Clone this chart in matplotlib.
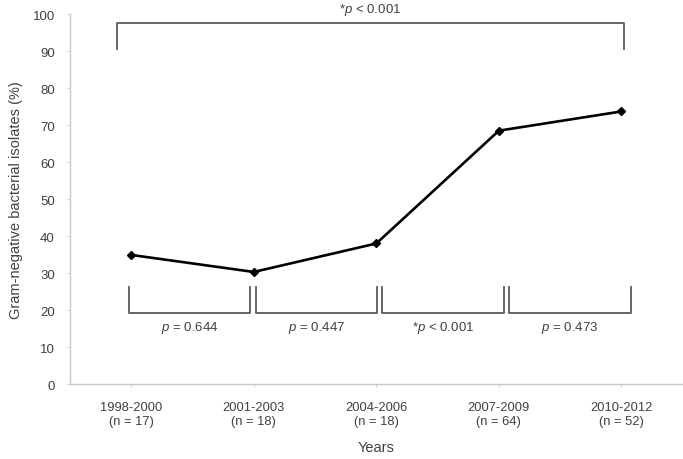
import matplotlib
matplotlib.use("Agg")
import matplotlib.pyplot as plt

periods = ["1998-2000", "2001-2003", "2004-2006", "2007-2009", "2010-2012"]
counts = [17, 18, 18, 64, 52]
pct = [34.9, 30.3, 38.0, 68.5, 73.7]
pair_p = ["$\\it{p}$ = 0.644", "$\\it{p}$ = 0.447", "*$\\it{p}$ < 0.001", "$\\it{p}$ = 0.473"]
overall_p = "*$\\it{p}$ < 0.001"

plt.rcParams['font.family'] = ['Liberation Sans', 'DejaVu Sans']
plt.rcParams['mathtext.fontset'] = 'custom'
plt.rcParams['mathtext.it'] = 'Liberation Sans:italic'
plt.rcParams['mathtext.rm'] = 'Liberation Sans'

fig = plt.figure(figsize=(6.83, 4.60), dpi=100)
ax = fig.add_axes([0.1025, 0.163, 0.897, 0.804])

x = list(range(len(periods)))
ax.plot(x, pct, color='black', lw=1.9, marker='D', ms=4.5, zorder=3)

ax.set_xlim(-0.5, 4.5)
ax.set_ylim(0, 100)
ax.set_yticks(range(0, 101, 10))
ax.set_xticks(x)
ax.set_xticklabels([f"{p}\n(n = {n})" for p, n in zip(periods, counts)],
                   fontsize=9.3, color='#404040', linespacing=1.3)
ax.tick_params(axis='y', labelsize=9.5, colors='#404040', length=2, color='#d0d0d0', pad=9)
ax.tick_params(axis='x', length=2, color='#d0d0d0', pad=10)

for s in ['top', 'right']:
    ax.spines[s].set_visible(False)
for s in ['left', 'bottom']:
    ax.spines[s].set_color('#c8c8c8')
    ax.spines[s].set_linewidth(1)

ax.set_ylabel("Gram-negative bacterial isolates (%)", fontsize=10.5, color='#404040', labelpad=7)
ax.set_xlabel("Years", fontsize=10.5, color='#404040', labelpad=9)

bc = '#595959'
# overall bracket
ax.plot([-0.12, -0.12, 4.02, 4.02], [90.5, 97.6, 97.6, 90.5], color=bc, lw=1.3, clip_on=False)
ax.text(1.95, 101.3, overall_p, ha='center', va='center', fontsize=9.5, color='#404040', clip_on=False)

# pairwise brackets
for i, lab in enumerate(pair_p):
    l = i - 0.02 + 0.035 * i
    r = l + 0.99
    ax.plot([l, l, r, r], [26.2, 19.2, 19.2, 26.2], color=bc, lw=1.3)
    ax.text((l + r) / 2, 15.3, lab, ha='center', va='center', fontsize=9.5, color='#404040')

fig.savefig("out.png", dpi=100)
